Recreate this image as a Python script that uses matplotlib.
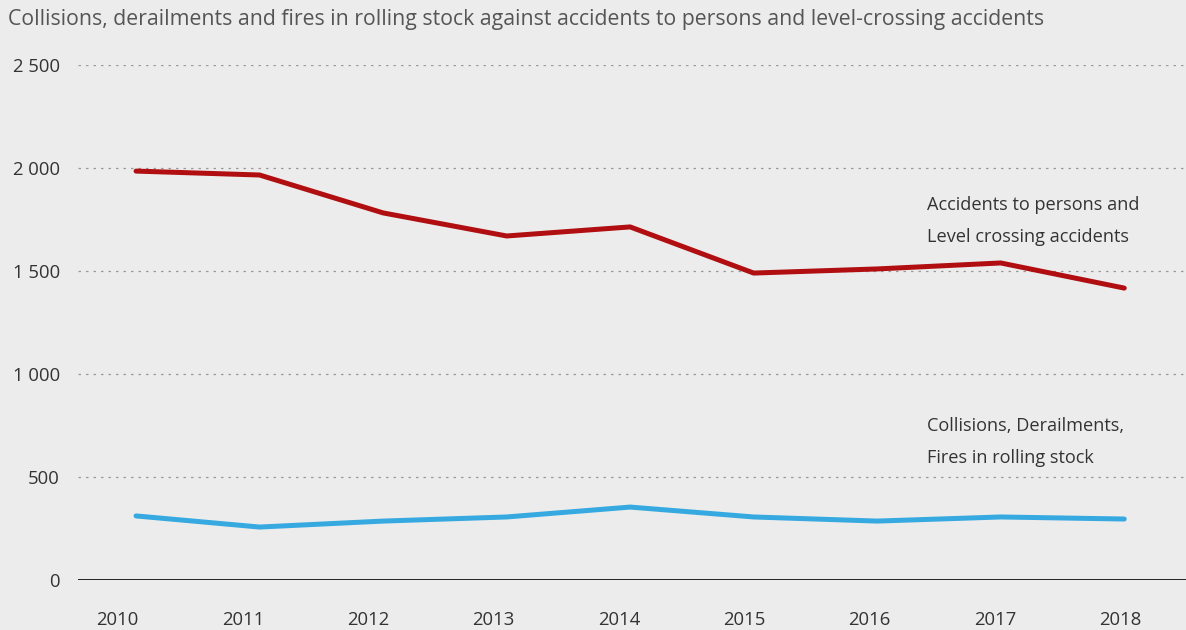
import numpy as np
import matplotlib.pyplot as plt

plt.rcParams['font.family'] = ['Open Sans', 'DejaVu Sans']

# Data
years = ['2010', '2011', '2012', '2013', '2014', '2015', '2016', '2017', '2018']
persons_level_crossing = [1985, 1966, 1782, 1670, 1714, 1490, 1510, 1539, 1417]
collisions_derailments_fires = [311, 257, 286, 306, 354, 306, 286, 306, 296]
yticks = [0, 500, 1000, 1500, 2000, 2500]
ytick_labels = ['0', '500', '1 000', '1 500', '2 000', '2 500']

RED = '#b00e10'
BLUE = '#36a9e1'
BG = '#ececec'

fig = plt.figure(figsize=(11.86, 6.30), dpi=100, facecolor=BG)
ax = fig.add_axes([78 / 1186, 1 - 580 / 630, 1 - 78 / 1186, (580 - 65) / 630])
ax.set_facecolor(BG)

x = np.arange(len(years))
ax.plot(x, persons_level_crossing, color=RED, lw=3.6, solid_capstyle='round', zorder=3)
ax.plot(x, collisions_derailments_fires, color=BLUE, lw=3.6, solid_capstyle='round', zorder=3)

ax.set_xlim(-0.47, 8.5)
ax.set_ylim(0, 2500)

# gridlines
for v in yticks[1:]:
    ax.axhline(v, color='#999999', lw=0.9, ls=(0, (2, 4)), zorder=1)
ax.axhline(0, color='black', lw=1.2, zorder=2)

for s in ax.spines.values():
    s.set_visible(False)

ax.set_yticks(yticks)
ax.set_yticklabels(ytick_labels, fontsize=13.3, color='#333333')
ax.tick_params(axis='y', length=0, pad=13)

# year labels sit slightly left of the data points
ax.set_xticks(np.linspace(-0.15, 7.97, len(years)))
ax.set_xticklabels(years, fontsize=13.3, color='#333333')
ax.tick_params(axis='x', length=0, pad=22)

ax.text(6.4, 1743, 'Accidents to persons and\nLevel crossing accidents',
        fontsize=13.1, color='#333333', va='center', ha='left', linespacing=2.0)
ax.text(6.4, 670, 'Collisions, Derailments,\nFires in rolling stock',
        fontsize=13.1, color='#333333', va='center', ha='left', linespacing=2.0)

fig.text(8 / 1186, 1 - 20 / 630,
         'Collisions, derailments and fires in rolling stock against accidents to persons and level-crossing accidents',
         fontsize=15.3, color='#555555', va='center', ha='left')

fig.savefig('out.png', dpi=100, facecolor=BG)
